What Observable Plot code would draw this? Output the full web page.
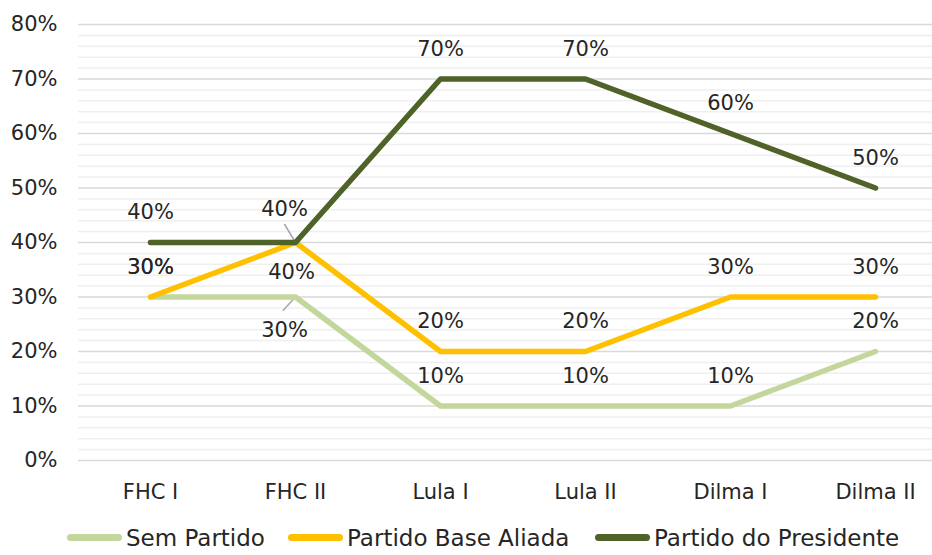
<!DOCTYPE html>
<html>
<head>
<meta charset="utf-8">
<script src="https://cdn.jsdelivr.net/npm/d3@7"></script>
<script src="https://cdn.jsdelivr.net/npm/@observablehq/plot@0.6"></script>
<style>
  html, body { margin: 0; padding: 0; background: #fff; }
  body { width: 932px; height: 555px; overflow: hidden; font-family: "DejaVu Sans", sans-serif; }
  #legend { position: relative; height: 35px; }
  .item { position: absolute; top: 0; height: 35px; display: flex; align-items: center; font-size: 23px; color: #262626; }
  .sw { width: 55px; height: 7px; border-radius: 4px; margin-right: 4px; }
</style>
</head>
<body>
<div id="chart"></div>
<div id="legend"></div>
<script>
const categories = ["FHC I", "FHC II", "Lula I", "Lula II", "Dilma I", "Dilma II"];
const seriesNames = ["Sem Partido", "Partido Base Aliada", "Partido do Presidente"];
const semPartido = [30, 30, 10, 10, 10, 20];
const baseAliada = [30, 40, 20, 20, 30, 30];
const presidente = [40, 40, 70, 70, 60, 50];
const yTicks = [0, 10, 20, 30, 40, 50, 60, 70, 80];
const colors = ["#C3D69B", "#FFC000", "#4F6228"];

const seriesValues = [semPartido, baseAliada, presidente];
const rows = [];
seriesNames.forEach((s, i) => categories.forEach((c, j) => rows.push({cat: c, series: s, value: seriesValues[i][j]})));

const minorTicks = d3.range(0, 81, 2).filter(d => d % 10 !== 0);
const fmt = d => d + "%";
const isFHC2 = d => d.cat === "FHC II";
const textStyle = {fontSize: 21, fill: "#262626", textAnchor: "middle", lineAnchor: "middle"};
const lineShape = {draw(ctx, l) { ctx.moveTo(0, 0); ctx.lineTo(0, -l); }};

const chart = Plot.plot({
  width: 932,
  height: 520,
  marginLeft: 78,
  marginRight: 0,
  marginTop: 24,
  marginBottom: 60,
  style: {fontFamily: "DejaVu Sans, sans-serif", fontSize: "21px", color: "#262626", background: "#fff"},
  x: {type: "point", domain: categories, range: [148, 876], padding: 0, label: null},
  y: {domain: [0, 80], label: null},
  color: {domain: seriesNames, range: colors},
  marks: [
    Plot.ruleY(minorTicks, {stroke: "#efefef", strokeWidth: 1.5}),
    Plot.ruleY(yTicks, {stroke: "#d9d9d9", strokeWidth: 1.5}),
    Plot.axisY({ticks: yTicks, tickFormat: fmt, tickSize: 0, tickPadding: 21, fontSize: 21, label: null}),
    Plot.axisX({tickSize: 0, tickPadding: 24, fontSize: 21, label: null}),
    Plot.vector(rows.filter(d => isFHC2(d) && d.series === "Partido do Presidente"),
      {x: "cat", y: "value", anchor: "start", length: 21, rotate: -31, shape: lineShape, stroke: "#a6a6a6", strokeWidth: 1.5}),
    Plot.vector(rows.filter(d => isFHC2(d) && d.series === "Sem Partido"),
      {x: "cat", y: "value", anchor: "start", length: 18, rotate: -137, shape: lineShape, stroke: "#a6a6a6", strokeWidth: 1.5}),
    Plot.line(rows, {x: "cat", y: "value", z: "series", stroke: "series", strokeWidth: 5.5, strokeLinecap: "round", strokeLinejoin: "round"}),
    Plot.text(rows.filter(d => !isFHC2(d)), {x: "cat", y: "value", text: d => fmt(d.value), dy: -30, ...textStyle}),
    Plot.text(rows.filter(d => isFHC2(d) && d.series === "Partido do Presidente"), {x: "cat", y: "value", text: d => fmt(d.value), dx: -11, dy: -33, ...textStyle}),
    Plot.text(rows.filter(d => isFHC2(d) && d.series === "Partido Base Aliada"), {x: "cat", y: "value", text: d => fmt(d.value), dx: -4, dy: 30, ...textStyle}),
    Plot.text(rows.filter(d => isFHC2(d) && d.series === "Sem Partido"), {x: "cat", y: "value", text: d => fmt(d.value), dx: -11, dy: 33, ...textStyle})
  ]
});
document.getElementById("chart").appendChild(chart);

const legend = document.getElementById("legend");
const lefts = [67, 288, 595];
seriesNames.forEach((s, i) => {
  const it = document.createElement("div");
  it.className = "item";
  it.style.left = lefts[i] + "px";
  const sw = document.createElement("div");
  sw.className = "sw";
  sw.style.background = colors[i];
  const tx = document.createElement("span");
  tx.textContent = s;
  it.appendChild(sw);
  it.appendChild(tx);
  legend.appendChild(it);
});
</script>
</body>
</html>
